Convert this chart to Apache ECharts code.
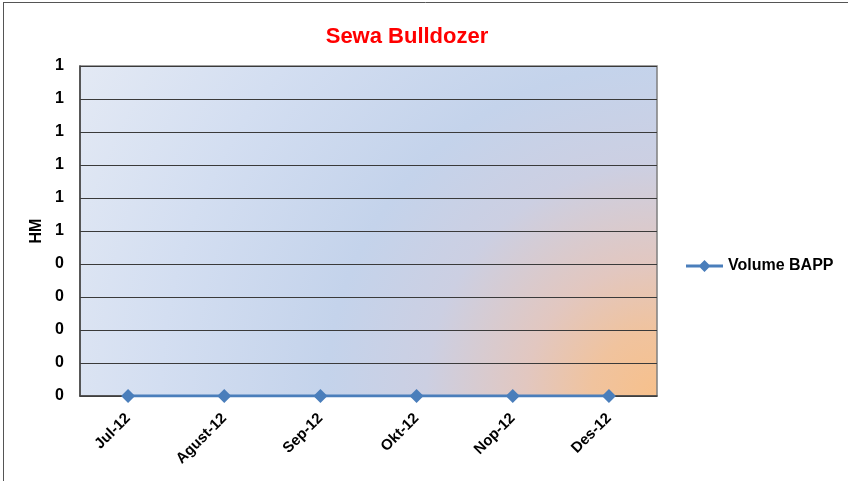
<!DOCTYPE html>
<html>
<head>
<meta charset="utf-8">
<script src="https://cdn.jsdelivr.net/npm/echarts@6/dist/echarts.min.js"></script>
<style>html,body{margin:0;padding:0;background:#fff;}#c{width:848px;height:481px;}</style>
</head>
<body>
<div id="c"></div>
<script>
var titleText = 'Sewa Bulldozer';
var categories = ['Jul-12', 'Agust-12', 'Sep-12', 'Okt-12', 'Nop-12', 'Des-12'];
var seriesName = 'Volume BAPP';
var seriesValues = [0, 0, 0, 0, 0, 0];
var yAxisName = 'HM';
var yMin = 0, yMax = 1, yInterval = 0.1;

var chart = echarts.init(document.getElementById('c'), null, {renderer: 'canvas'});
var font = 'Arial, "Liberation Sans", sans-serif';
var bg = new echarts.graphic.RadialGradient(1, 1, 2, [
  {offset: 0, color: '#f7c08b'},
  {offset: 0.1, color: '#f0c39e'},
  {offset: 0.2, color: '#e2c7c0'},
  {offset: 0.35, color: '#cccfe2'},
  {offset: 0.5, color: '#c4d3eb'},
  {offset: 0.75, color: '#d3def1'},
  {offset: 1, color: '#e3e9f4'}
]);
chart.setOption({
  animation: false,
  title: {
    text: titleText, left: 402, top: 21, textAlign: 'center',
    textStyle: {color: '#ff0000', fontSize: 22, fontWeight: 'bold', fontFamily: font}
  },
  graphic: [
    {type: 'line', shape: {x1: 3, y1: 2.5, x2: 848, y2: 2.5}, style: {stroke: '#555', lineWidth: 1}},
    {type: 'line', shape: {x1: 3.5, y1: 2, x2: 3.5, y2: 481}, style: {stroke: '#555', lineWidth: 1}}
  ],
  legend: {
    left: 681, top: 253, itemWidth: 37, itemHeight: 12, itemGap: 4,
    data: [{name: seriesName, icon: 'path://M0,4.5L14,4.5L18.5,0L23,4.5L37,4.5L37,7.5L23,7.5L18.5,12L14,7.5L0,7.5Z'}],
    textStyle: {fontSize: 16, fontWeight: 'bold', color: '#000', fontFamily: font, padding: [0,0,0,0]}
  },
  grid: {
    left: 80, top: 66, right: 191, bottom: 85, containLabel: false,
    show: true, backgroundColor: bg, borderColor: '#7f7f7f', borderWidth: 1.5
  },
  xAxis: {
    type: 'category', data: categories, boundaryGap: true,
    axisLine: {show: true, lineStyle: {color: '#404040', width: 1.5}},
    axisTick: {show: false},
    axisLabel: {
      rotate: 45, interval: 0, margin: 20, fontSize: 15, fontWeight: 'bold', color: '#000', fontFamily: font
    }
  },
  yAxis: {
    type: 'value', min: yMin, max: yMax, interval: yInterval,
    name: yAxisName, nameLocation: 'middle', nameGap: 33, nameRotate: 90,
    nameTextStyle: {fontSize: 16, fontWeight: 'bold', color: '#000', fontFamily: font},
    axisLine: {show: true, lineStyle: {color: '#404040', width: 1.5}},
    axisTick: {show: false},
    splitLine: {show: true, lineStyle: {color: '#3a3a3a', width: 1.2}},
    axisLabel: {
      margin: 16, fontSize: 16, fontWeight: 'bold', color: '#000', fontFamily: font,
      formatter: function (v) { return String(Math.round(v)); }
    }
  },
  series: [{
    name: seriesName, type: 'line', data: seriesValues,
    symbol: 'diamond', symbolSize: 14,
    lineStyle: {color: '#4a7ebb', width: 3},
    itemStyle: {color: '#4a7ebb'},
    z: 5
  }]
});
</script>
</body>
</html>
